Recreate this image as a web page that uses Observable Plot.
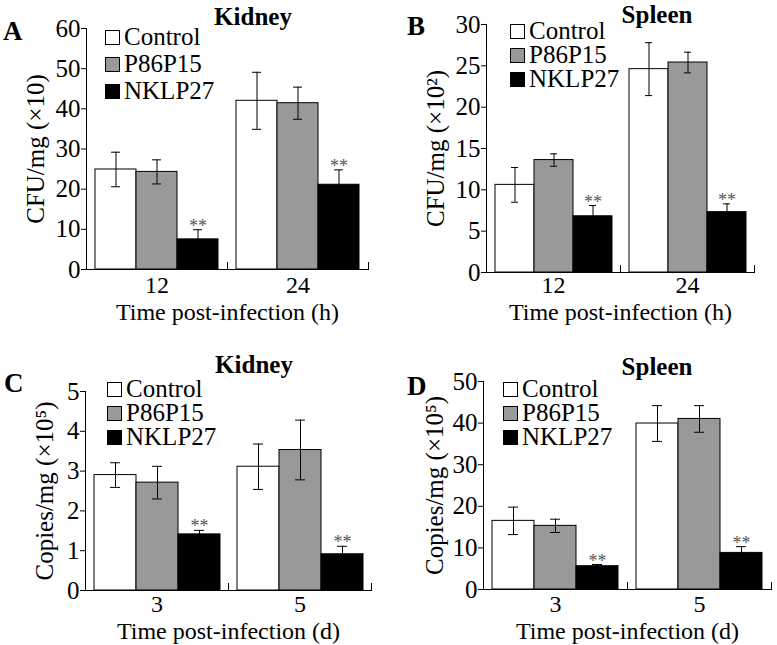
<!DOCTYPE html>
<html>
<head>
<meta charset="utf-8">
<script src="https://cdn.jsdelivr.net/npm/d3@7"></script>
<script src="https://cdn.jsdelivr.net/npm/@observablehq/plot@0.6"></script>
<style>
  html, body { margin: 0; padding: 0; background: #fff; }
  #root { position: relative; width: 777px; height: 645px; overflow: hidden; font-family: "Liberation Serif", "Times New Roman", serif; color: #000; }
  .panel { position: absolute; }
  .lab { position: absolute; font-family: "Liberation Serif", serif; font-weight: bold; white-space: nowrap; line-height: 1; }
  .title { position: absolute; font-family: "Liberation Serif", serif; font-weight: bold; white-space: nowrap; line-height: 1; transform: translateX(-50%); }
  .sq { position: absolute; width: 15px; height: 15px; box-sizing: border-box; border: 1px solid #000; }
  .lt { position: absolute; font-family: "Liberation Serif", serif; font-size: 25px; line-height: 21px; height: 21px; white-space: nowrap; }
</style>
</head>
<body>
<div id="root"></div>
<script>
// ---- data ----
const seriesNames = ["Control", "P86P15", "NKLP27"];
const seriesColors = ["#ffffff", "#999999", "#000000"];

const hoursTicks = ["12", "24"];
const daysTicks = ["3", "5"];

// rows: time points, columns: series (Control, P86P15, NKLP27)
const kidneyCfuMean = [[24.9, 24.3, 7.5], [42.0, 41.4, 21.1]];
const kidneyCfuSd   = [[4.3, 3.0, 2.4], [7.1, 4.0, 3.7]];
const spleenCfuMean = [[10.6, 13.6, 6.8], [24.6, 25.4, 7.3]];
const spleenCfuSd   = [[2.1, 0.75, 1.3], [3.2, 1.25, 1.0]];
const kidneyCopiesMean = [[2.90, 2.71, 1.41], [3.11, 3.53, 0.91]];
const kidneyCopiesSd   = [[0.31, 0.41, 0.10], [0.57, 0.75, 0.20]];
const spleenCopiesMean = [[16.5, 15.3, 5.6], [39.9, 41.0, 8.8]];
const spleenCopiesSd   = [[3.3, 1.6, 0.4], [4.3, 3.2, 1.5]];

const yTicksA = [0, 10, 20, 30, 40, 50, 60];
const yTicksB = [0, 5, 10, 15, 20, 25, 30];
const yTicksC = [0, 1, 2, 3, 4, 5];
const yTicksD = [0, 10, 20, 30, 40, 50];

const significantSeries = "NKLP27";
const starText = "**";

// ---- panels ----
const panels = [
  {letter: "A", title: "Kidney", times: hoursTicks, mean: kidneyCfuMean, sd: kidneyCfuSd, ticks: yTicksA,
   yLabel: "CFU/mg (×10)", xLabel: "Time post-infection (h)",
   left: 0, top: 0, width: 388, height: 322, mL: 85, mR: 20, mT: 28, mB: 53, yOff: 60, xOff: 50, tp: 6,
   letterPos: [3, 18], titlePos: [253, 4], legend: [105, 30, 27]},
  {letter: "B", title: "Spleen", times: hoursTicks, mean: spleenCfuMean, sd: spleenCfuSd, ticks: yTicksB,
   yLabel: "CFU/mg (×10²)", xLabel: "Time post-infection (h)",
   left: 390, top: 0, width: 387, height: 322, mL: 96, mR: 23, mT: 24, mB: 50, yOff: 60, xOff: 47, tp: 3,
   letterPos: [17, 13], titlePos: [267, 2], legend: [120, 24, 24]},
  {letter: "C", title: "Kidney", times: daysTicks, mean: kidneyCopiesMean, sd: kidneyCopiesSd, ticks: yTicksC,
   yLabel: "Copies/mg (×10⁵)", xLabel: "Time post-infection (d)",
   left: 0, top: 322, width: 388, height: 323, mL: 85, mR: 17, mT: 69, mB: 55, yOff: 50, xOff: 48, tp: 4,
   letterPos: [4, 48], titlePos: [254, 30], legend: [107, 60, 24]},
  {letter: "D", title: "Spleen", times: daysTicks, mean: spleenCopiesMean, sd: spleenCopiesSd, ticks: yTicksD,
   yLabel: "Copies/mg (×10⁵)", xLabel: "Time post-infection (d)",
   left: 390, top: 322, width: 387, height: 323, mL: 93, mR: 6, mT: 59, mB: 56, yOff: 58, xOff: 49, tp: 5,
   letterPos: [17, 51], titlePos: [267, 32], legend: [113, 60, 24]}
];

const root = document.getElementById("root");

function makePanel(p) {
  const rows = [];
  p.times.forEach((t, i) => seriesNames.forEach((s, j) => rows.push({time: t, series: s, mean: p.mean[i][j], sd: p.sd[i][j]})));
  const plotH = p.height - p.mT - p.mB;
  const chart = Plot.plot({
    width: p.width, height: p.height,
    marginLeft: p.mL, marginRight: p.mR, marginTop: p.mT, marginBottom: p.mB,
    style: {fontFamily: '"Liberation Serif", "Times New Roman", serif', fontSize: "25px", color: "#000", background: "transparent", overflow: "visible"},
    fx: {domain: p.times, padding: 0},
    x: {domain: seriesNames, paddingInner: 0, paddingOuter: 0.2, axis: null},
    y: {domain: [0, p.ticks[p.ticks.length - 1]]},
    color: {domain: seriesNames, range: seriesColors},
    marks: [
      Plot.barY(rows, {fx: "time", x: "series", y: "mean", fill: "series", stroke: "#000", strokeWidth: 1}),
      Plot.ruleX(rows, {fx: "time", x: "series", y1: d => d.mean - d.sd, y2: d => d.mean + d.sd, stroke: "#000", strokeWidth: 1}),
      Plot.tickY(rows, {fx: "time", x: "series", y: d => d.mean + d.sd, stroke: "#000", strokeWidth: 1, insetLeft: 16, insetRight: 16}),
      Plot.tickY(rows, {fx: "time", x: "series", y: d => d.mean - d.sd, stroke: "#000", strokeWidth: 1, insetLeft: 16, insetRight: 16}),
      Plot.text(rows.filter(d => d.series === significantSeries), {fx: "time", x: "series", y: d => d.mean + d.sd, text: () => starText,
        fill: "#555", fontSize: 18, lineAnchor: "bottom", dy: 2}),
      Plot.ruleY([0], {stroke: "#000", strokeWidth: 1}),
      Plot.frame({anchor: "right", insetTop: plotH - 7, stroke: "#000"}),
      Plot.frame({anchor: "left", facet: "super", stroke: "#000"}),
      Plot.axisY({ticks: p.ticks, tickFormat: d3.format("d"), tickSize: 5, tickPadding: 1, label: p.yLabel, labelAnchor: "center", labelArrow: "none", labelOffset: p.yOff}),
      Plot.axisFx({anchor: "bottom", fontSize: 24, tickSize: 0, tickPadding: p.tp, label: p.xLabel, labelAnchor: "center", labelArrow: "none", labelOffset: p.xOff})
    ]
  });
  const wrap = document.createElement("div");
  wrap.className = "panel";
  wrap.style.left = p.left + "px";
  wrap.style.top = p.top + "px";
  wrap.appendChild(chart);
  root.appendChild(wrap);

  const letter = document.createElement("div");
  letter.className = "lab";
  letter.style.fontSize = "27px";
  letter.style.left = (p.left + p.letterPos[0]) + "px";
  letter.style.top = (p.top + p.letterPos[1]) + "px";
  letter.textContent = p.letter;
  root.appendChild(letter);

  const title = document.createElement("div");
  title.className = "title";
  title.style.fontSize = "25px";
  title.style.left = (p.left + p.titlePos[0]) + "px";
  title.style.top = (p.top + p.titlePos[1]) + "px";
  title.textContent = p.title;
  root.appendChild(title);

  const [lx, ly, step] = p.legend;
  seriesNames.forEach((s, i) => {
    const sq = document.createElement("div");
    sq.className = "sq";
    sq.style.background = seriesColors[i];
    sq.style.left = (p.left + lx) + "px";
    sq.style.top = (p.top + ly + i * step) + "px";
    root.appendChild(sq);
    const t = document.createElement("div");
    t.className = "lt";
    t.style.left = (p.left + lx + 19) + "px";
    t.style.top = (p.top + ly + i * step - 4) + "px";
    t.textContent = s;
    root.appendChild(t);
  });
}

panels.forEach(makePanel);
</script>
</body>
</html>
